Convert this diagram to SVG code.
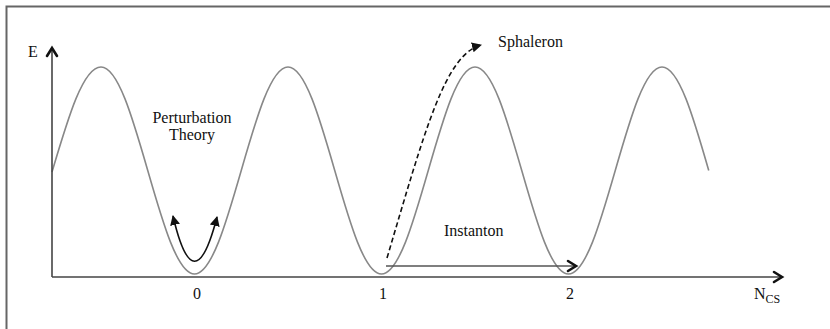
<svg xmlns="http://www.w3.org/2000/svg" width="830" height="329" viewBox="0 0 830 329">
<style>
text{font-family:'Liberation Serif','DejaVu Serif','Noto Serif',serif;font-size:16px;fill:#111}
.chev{fill:none;stroke:#111;stroke-width:2.6;stroke-linecap:round;stroke-linejoin:miter}
.axis{stroke:#444;stroke-width:1.6;fill:none}
</style>
<defs>
<marker id="tri" viewBox="0 0 10 10" refX="9" refY="5" markerWidth="10" markerHeight="10" markerUnits="userSpaceOnUse" orient="auto-start-reverse">
<path d="M0,0 L10,5 L0,10 Z" fill="#111"/>
</marker>
</defs>
<rect width="830" height="329" fill="#fff"/>
<path d="M6.5,329 V6.5 H830" fill="none" stroke="#666" stroke-width="2"/>
<g id="potential">
<path d="M52,172 C68,118 83,67 101,67 C117.92,67 132.5,117.5 147.75,170.5 C163,223.5 177.58,274 194.5,274 C211.42,274 226,223.5 241.25,170.5 C256.5,117.5 271.08,67 288,67 C304.92,67 319.5,117.5 334.75,170.5 C350,223.5 364.58,274 381.5,274 C398.42,274 413,223.5 428.25,170.5 C443.5,117.5 458.08,67 475,67 C491.92,67 506.5,117.5 521.75,170.5 C537,223.5 551.58,274 568.5,274 C585.42,274 600,223.5 615.25,170.5 C630.5,117.5 645.08,67 662,67 C678.92,67 693.5,117.5 708.75,170.5" fill="none" stroke="#888" stroke-width="1.6"/>
</g>
<g id="axes">
<path class="axis" d="M52,277 V48"/>
<path class="chev" d="M47,56 L52,48 L57,56"/>
<path class="axis" d="M52,277 H782"/>
<path class="chev" d="M774,272 L782,277 L774,282"/>
</g>
<g id="labels" font-family="Liberation Serif, DejaVu Serif, serif">
<g id="label-E"><text x="28" y="57">E</text></g>
<g id="label-0"><text x="197" y="299" text-anchor="middle">0</text></g>
<g id="label-1"><text x="383" y="299" text-anchor="middle">1</text></g>
<g id="label-2"><text x="570" y="299" text-anchor="middle">2</text></g>
<g id="label-ncs"><text x="754" y="299">N<tspan font-size="12" dy="4">CS</tspan></text></g>
</g>
<g id="perturbation">
<text x="192" y="123" text-anchor="middle">Perturbation</text>
<text x="192" y="140" text-anchor="middle">Theory</text>
</g>
<g id="sphaleron"><text x="498" y="47">Sphaleron</text></g>
<g id="instanton"><text x="444" y="236">Instanton</text></g>
<g id="connectors">
<path d="M173,216 Q194,306 217,217" fill="none" stroke="#111" stroke-width="1.6" marker-start="url(#tri)" marker-end="url(#tri)"/>
<path d="M387,258 C425,130 445,55 481,45" fill="none" stroke="#111" stroke-width="1.6" stroke-dasharray="5,3" marker-end="url(#tri)"/>
<path d="M386,266 H576" fill="none" stroke="#555" stroke-width="1.6"/>
<path class="chev" d="M568,261 L576,266 L568,271"/>
</g>
</svg>
